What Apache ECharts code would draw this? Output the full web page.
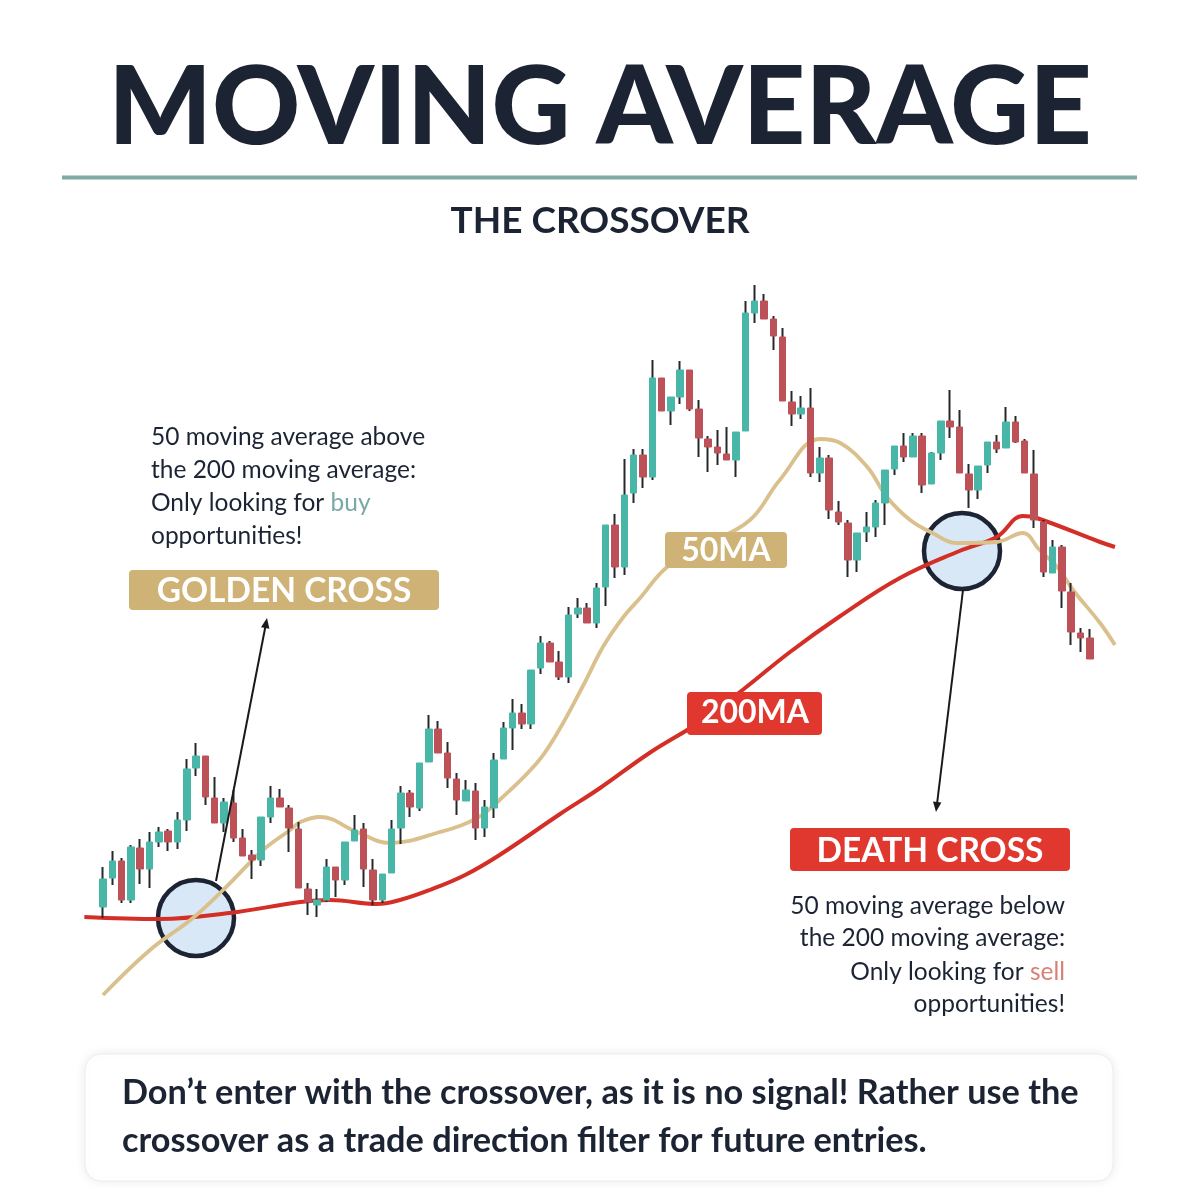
<!DOCTYPE html>
<html>
<head>
<meta charset="utf-8">
<title>Moving Average - The Crossover</title>
<script src="https://cdn.jsdelivr.net/npm/echarts@6/dist/echarts.min.js"></script>
<style>
  html, body { margin: 0; padding: 0; background: #fff; }
  #chart { width: 1200px; height: 1189px; }
</style>
</head>
<body>
<div id="chart"></div>
<script>
// candles: [open, close, low, high]
const candles = [
  [93,121,82,133],[122,139,115,149],[139,100,97,142],[100,153,97,155],[152,131,116,161],
  [131,158,112,168],[158,168,153,173],[169,158,149,171],[158,180,151,188],[180,231,169,241],
  [232,244,224,257],[244,203,195,244],[202,177,177,223],[177,198,168,202],[197,162,158,210],
  [162,144,144,171],[145,140,121,150],[140,183,134,183],[183,202,177,214],[202,193,193,211],
  [192,172,148,195],[171,112,112,178],[111,98,85,117],[95,100,83,111],[100,133,98,141],
  [133,120,103,133],[120,158,115,158],[159,170,159,185],[171,131,113,177],[130,100,95,141],
  [100,126,97,126],[127,171,127,180],[172,207,156,214],[207,193,183,210],[192,237,189,237],
  [238,271,238,285],[271,247,247,279],[247,222,212,258],[221,200,185,227],[199,210,199,220],
  [209,172,160,217],[172,193,163,200],[192,240,182,247],[241,272,241,278],[272,287,250,301],
  [287,276,271,296],[276,330,271,330],[332,357,326,364],[357,338,338,359],[338,323,320,349],
  [323,385,317,393],[386,392,382,402],[392,377,377,397],[377,412,372,417],[413,475,394,475],
  [475,433,422,486],[433,505,425,541],[507,545,497,551],[545,523,512,551],[523,622,520,640],
  [622,589,589,622],[589,603,575,603],[603,630,596,639],[630,591,589,630],[591,562,543,600],
  [561,553,528,564],[553,547,535,570],[546,540,540,573],[540,568,523,568],[569,687,569,699],
  [687,699,677,715],[699,681,681,706],[681,664,650,684],[663,599,599,672],[598,586,574,609],
  [586,592,581,604],[592,527,523,612],[527,542,518,553],[542,490,481,545],[488,478,475,499],
  [477,440,423,480],[440,467,428,467],[468,473,458,488],[473,497,463,500],[497,530,475,530],
  [531,554,525,554],[554,543,538,567],[543,564,543,567],[564,515,507,567],[516,547,516,548],
  [547,579,540,579],[579,573,562,610],[573,527,527,590],[526,510,492,536],[510,534,501,534],
  [535,558,527,558],[558,551,547,565],[552,578,552,593],[578,558,557,584],[559,527,527,561],
  [526,480,472,550],[478,428,423,480],[427,453,427,460],[453,409,392,455],[408,368,355,417],
  [367,362,348,372],[362,341,341,371]
];
const leadSlots = 2;
const tailSlots = 3;
const days = Array.from({ length: leadSlots + candles.length + tailSlots }, (_, i) => 'D' + (i + 1));

// moving averages: [day position, value]
const ma50 = [
  [2.0,5],[7.05,50],[11.66,82],[14.9,110],[19.2,150],[22.1,170],[23.2,178],[25.3,183],
  [29.3,168],[32.8,157],[38.2,168],[42.2,182],[44.6,200],[48.6,237],[50.8,267],[53.5,313],
  [55.7,353],[57.9,383],[59.7,402],[62.6,433],[66.7,455],[71.5,480],[74.7,520],[79.0,561],
  [81.2,557],[84.1,533],[86.2,503],[88.7,480],[91.1,467],[93.7,457],[98.0,458],[100.8,467],
  [102.6,450],[104.5,433],[106.2,410],[109.1,377],[110.7,355]
];
const ma200 = [
  [0,83],[8.1,81],[15.6,87],[23.2,98],[26.4,100],[31.4,96],[33.9,100],[37.1,110],
  [40.9,125],[44.6,145],[51.1,186],[55.4,212],[60.7,247],[66.1,278],[70.7,310],
  [75.8,348],[81.2,384],[87.6,422],[94.0,449],[98.0,463],[100.8,484],[102.3,482],
  [109.1,458],[110.7,453]
];

const ink = '#1c2434';
const up = '#48b7a8';
const down = '#bd5158';
const wick = '#26282c';
const gold = '#cfb276';
const red = '#e0372e';
const fam = 'Lato, "Noto Sans", sans-serif';

const pad = (arr) => Array(leadSlots).fill('-').concat(arr, Array(tailSlots).fill('-'));
const bodies = candles.map(([o, c]) => [o, c, Math.min(o, c), Math.max(o, c)]);

function txt(x, y, text, font, fill, align) {
  return {
    type: 'text', x: x, y: y, z: 20,
    style: { text: text, font: font, fill: fill, align: align, textAlign: align,
             verticalAlign: 'middle', textVerticalAlign: 'middle' }
  };
}
function box(x, y, w, h, fill) {
  return { type: 'rect', z: 19, shape: { x: x, y: y, width: w, height: h, r: 4 }, style: { fill: fill } };
}

var myChart = echarts.init(document.getElementById('chart'));
var option = {
  backgroundColor: '#ffffff',
  animation: false,
  grid: { left: 79.7, right: 77.6, top: 280, bottom: 189 },
  xAxis: [
    { type: 'category', data: days, boundaryGap: true, show: false },
    { type: 'value', min: -0.5, max: days.length - 0.5, show: false }
  ],
  yAxis: { type: 'value', min: 0, max: 720, show: false },
  series: [
    {
      name: '200MA', type: 'line', xAxisIndex: 1, data: ma200,
      smooth: 0.4, symbol: 'none', z: 2,
      lineStyle: { color: '#d42f27', width: 4 }
    },
    {
      name: '50MA', type: 'line', xAxisIndex: 1, data: ma50,
      smooth: 0.4, symbol: 'none', z: 2,
      lineStyle: { color: '#d9c08c', width: 3.8 }
    },
    {
      name: 'wicks', type: 'candlestick', data: pad(candles), barWidth: 1, z: 3,
      itemStyle: { color: wick, color0: wick, borderColor: wick, borderColor0: wick, borderWidth: 2 }
    },
    {
      name: 'bodies', type: 'candlestick', data: pad(bodies), barWidth: 7, z: 4,
      itemStyle: { color: up, color0: down, borderColor: up, borderColor0: down, borderWidth: 1 }
    }
  ],
  graphic: [
    // header
    txt(600, 109, 'MOVING AVERAGE', '900 109px ' + fam, ink, 'center'),
    { type: 'line', z: 20, shape: { x1: 62, y1: 177.5, x2: 1137, y2: 177.5 }, style: { stroke: '#80aaa5', lineWidth: 4 } },
    txt(600, 221, 'THE CROSSOVER', 'bold 37px ' + fam, ink, 'center'),

    // crossover circles (under the lines)
    { type: 'circle', z: 1, shape: { cx: 196, cy: 918, r: 38 }, style: { fill: '#d9e8f6', stroke: ink, lineWidth: 4.5 } },
    { type: 'circle', z: 1, shape: { cx: 962, cy: 551, r: 38 }, style: { fill: '#d9e8f6', stroke: ink, lineWidth: 4.5 } },

    // arrows
    { type: 'line', z: 20, shape: { x1: 216, y1: 881, x2: 265.5, y2: 626 }, style: { stroke: '#1a1a1a', lineWidth: 2 } },
    { type: 'polygon', z: 20, shape: { points: [[267, 618], [269.4, 628.8], [261.0, 627.2]] }, style: { fill: '#1a1a1a' } },
    { type: 'line', z: 20, shape: { x1: 963, y1: 590, x2: 937, y2: 804 }, style: { stroke: '#1a1a1a', lineWidth: 2 } },
    { type: 'polygon', z: 20, shape: { points: [[936, 812], [941.4, 802.4], [933.0, 801.4]] }, style: { fill: '#1a1a1a' } },

    // golden cross note
    txt(151, 437, '50 moving average above', '24.5px ' + fam, ink, 'left'),
    txt(151, 470, 'the 200 moving average:', '24.5px ' + fam, ink, 'left'),
    {
      type: 'text', x: 151, y: 503, z: 20,
      style: {
        text: '{n|Only looking for }{g|buy}', align: 'left', verticalAlign: 'middle',
        rich: { n: { font: '24.5px ' + fam, fill: ink }, g: { font: '24.5px ' + fam, fill: '#79a9a5' } }
      }
    },
    txt(151, 536, 'opportunities!', '24.5px ' + fam, ink, 'left'),
    box(129, 570, 310, 40, gold),
    txt(284, 591, 'GOLDEN CROSS', 'bold 33.5px ' + fam, '#ffffff', 'center'),

    // line labels
    box(665, 532, 122, 36, gold),
    txt(726, 551, '50MA', 'bold 32px ' + fam, '#ffffff', 'center'),
    box(687, 692, 135, 43, red),
    txt(755, 713, '200MA', 'bold 32px ' + fam, '#ffffff', 'center'),

    // death cross note
    box(790, 828, 280, 43, red),
    txt(930, 851, 'DEATH CROSS', 'bold 33.5px ' + fam, '#ffffff', 'center'),
    txt(1065, 906, '50 moving average below', '24.5px ' + fam, ink, 'right'),
    txt(1065, 938, 'the 200 moving average:', '24.5px ' + fam, ink, 'right'),
    {
      type: 'text', x: 1065, y: 972, z: 20,
      style: {
        text: '{n|Only looking for }{s|sell}', align: 'right', verticalAlign: 'middle',
        rich: { n: { font: '24.5px ' + fam, fill: ink }, s: { font: '24.5px ' + fam, fill: '#d98073' } }
      }
    },
    txt(1065, 1004, 'opportunities!', '24.5px ' + fam, ink, 'right'),

    // footer note
    {
      type: 'rect', z: 18, shape: { x: 85, y: 1054, width: 1028, height: 127, r: 16 },
      style: { fill: '#ffffff', stroke: '#ececec', lineWidth: 1, shadowBlur: 12, shadowColor: 'rgba(0,0,0,0.08)' }
    },
    txt(122, 1093, 'Don\u2019t enter with the crossover, as it is no signal! Rather use the', 'bold 34.3px ' + fam, ink, 'left'),
    txt(122, 1141, 'crossover as a trade direction filter for future entries.', 'bold 34.3px ' + fam, ink, 'left')
  ]
};
myChart.setOption(option);
</script>
</body>
</html>
